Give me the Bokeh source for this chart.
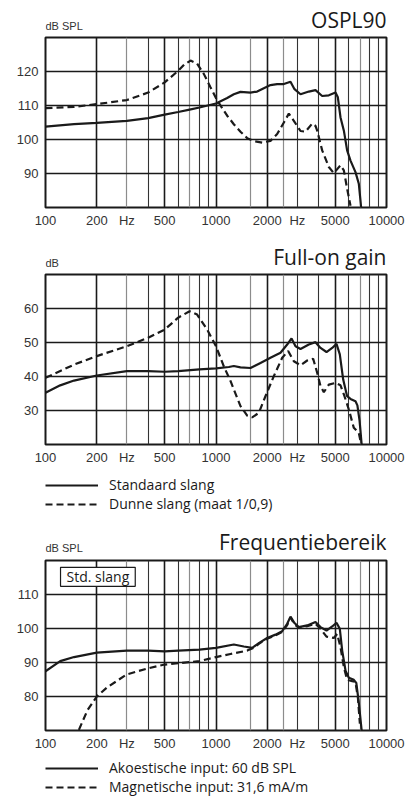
from bokeh.plotting import figure
from bokeh.layouts import column
from bokeh.models import Grid, FixedTicker, Label, Legend, LegendItem
from bokeh.core.properties import value
from bokeh.embed import file_html
from bokeh.resources import INLINE

# ---------------- data ----------------
X_TICKS = [100, 200, 300, 500, 1000, 2000, 3000, 5000, 10000]
X_LABELS = ["100", "200", "Hz", "500", "1000", "2000", "Hz", "5000", "10000"]
GRID_MAJOR = [200, 500, 1000, 2000, 5000]
GRID_DARK = [400, 600, 800, 900, 3000, 4000, 6000, 8000, 9000]
GRID_LIGHT = [300, 700, 1600, 2500, 7000]

TITLES = ["OSPL90", "Full-on gain", "Frequentiebereik"]
UNITS = ["dB SPL", "dB", "dB SPL"]
Y_TICKS = [[90, 100, 110, 120], [30, 40, 50, 60], [80, 90, 100, 110]]
Y_RANGES = [(80, 130), (20, 70), (70, 120)]
LEGEND_2 = ["Standaard slang", "Dunne slang (maat 1/0,9)"]
LEGEND_3 = ["Akoestische input: 60 dB SPL", "Magnetische input: 31,6 mA/m"]
BOX_3 = "Std. slang"

# OSPL90
ospl_std_f = [100, 147, 200, 300, 400, 500, 600, 700, 800, 1000, 1163, 1272, 1392, 1593, 1743, 1908,
              2087, 2284, 2500, 2735, 2887, 3131, 3503, 3833, 4195, 4590, 5022, 5184, 5374, 5623,
              5876, 6150, 6578, 6880, 7100]
ospl_std_v = [103.8, 104.5, 104.9, 105.5, 106.3, 107.3, 108.1, 108.8, 109.4, 110.6, 112.2, 113.3, 114.0,
              113.8, 114.1, 115.1, 116.0, 116.3, 116.3, 117.0, 114.8, 113.3, 114.1, 114.5, 112.8, 113.0,
              113.8, 112.4, 106.5, 102.6, 96.8, 93.8, 90.4, 87.0, 80.0]
ospl_thin_f = [100, 147, 200, 300, 400, 500, 600, 650, 709, 775, 848, 928, 1016, 1163, 1272, 1392, 1524,
               1667, 1866, 2087, 2284, 2500, 2674, 2861, 3131, 3350, 3666, 3833, 3922, 4195, 4590, 4909,
               5374, 5623, 5876, 6150]
ospl_thin_v = [109.2, 109.6, 110.4, 111.6, 113.8, 116.8, 120.2, 122.0, 123.2, 122.3, 119.3, 115.4, 111.5,
               107.0, 104.5, 102.3, 100.4, 99.5, 99.1, 99.6, 101.6, 105.0, 107.6, 105.5, 102.5, 102.3,
               104.7, 104.0, 102.6, 96.8, 91.9, 90.1, 92.4, 90.9, 85.5, 80.5]

# Full-on gain
gain_std_f = [100, 122, 147, 200, 300, 400, 500, 600, 800, 1000, 1189, 1272, 1392, 1593, 1824, 2087,
              2390, 2615, 2773, 2927, 3131, 3503, 3833, 4101, 4447, 4803, 5090, 5323, 5572, 5876, 6150,
              6578, 6750, 6950, 7150]
gain_std_v = [35.2, 37.4, 38.8, 40.3, 41.6, 41.6, 41.4, 41.6, 42.1, 42.4, 42.8, 43.1, 42.7, 42.5, 44.0,
              45.5, 47.0, 49.4, 51.2, 48.9, 48.1, 49.4, 50.1, 48.4, 47.2, 48.4, 49.6, 46.5, 39.1, 34.2,
              33.4, 32.7, 31.5, 27.0, 20.0]
gain_thin_f = [100, 147, 200, 300, 400, 500, 600, 700, 775, 887, 1000, 1111, 1216, 1272, 1392, 1524,
               1630, 1783, 1950, 2183, 2445, 2650, 2861, 3131, 3427, 3715, 3922, 4101, 4290, 4590, 5022,
               5374, 5670, 6012, 6432, 6880, 7105]
gain_thin_v = [39.6, 43.5, 46.0, 48.9, 51.4, 53.8, 57.3, 59.2, 58.2, 53.8, 48.9, 43.0, 38.7, 36.2, 31.3,
               28.5, 28.0, 29.3, 34.2, 40.1, 45.5, 47.5, 44.5, 43.3, 44.7, 45.2, 41.1, 37.2, 35.4, 37.6,
               38.1, 37.4, 34.2, 30.3, 24.9, 23.4, 20.0]

# Frequentiebereik
freq_ac_f = [100, 122, 147, 200, 300, 400, 500, 600, 800, 1000, 1272, 1456, 1630, 1783, 1995, 2234,
             2445, 2615, 2735, 2887, 3060, 3427, 3833, 4101, 4447, 4803, 5090, 5323, 5497, 5750, 6012,
             6432, 6650, 6850, 7150]
freq_ac_v = [87.4, 90.4, 91.6, 92.9, 93.5, 93.5, 93.3, 93.5, 93.8, 94.3, 95.3, 94.7, 94.3, 95.7, 97.2,
             98.2, 99.2, 101.4, 103.5, 101.6, 100.4, 100.9, 101.9, 100.4, 99.4, 100.6, 101.7, 99.9,
             93.5, 87.6, 85.5, 84.9, 84.0, 79.0, 70.0]
freq_mag_f = [157, 176, 200, 230, 300, 400, 500, 600, 800, 1000, 1216, 1524, 1667, 1783, 1995, 2234,
              2445, 2615, 2735, 2887, 3060, 3427, 3833, 4101, 4447, 4909, 5140, 5374, 5623, 5876, 6290,
              6578, 6800, 6980]
freq_mag_v = [70.2, 75.9, 80.0, 82.7, 86.5, 88.3, 89.4, 89.8, 90.4, 91.6, 92.5, 93.5, 94.3, 95.5, 97.0,
              98.0, 99.0, 101.0, 103.2, 101.2, 100.2, 100.7, 101.4, 99.9, 97.6, 97.2, 98.4, 94.5, 88.6,
              84.9, 84.5, 84.3, 79.5, 72.0]

INK = "#1a1a1a"
TICK_FONT = "Liberation Sans"
TITLE_FONT = "Open Sans"
DASH = "7 4"
W = 410
BL, BR = 45, 24


def bare_figure(h, bl=BL, bt=0, xr=(0, 1), yr=None):
    p = figure(width=W, height=h, x_range=xr, y_range=yr if yr else (0, h),
               x_axis_location=None, y_axis_location=None,
               output_backend="svg", toolbar_location=None,
               min_border_left=bl, min_border_right=BR, min_border_top=bt, min_border_bottom=0)
    p.outline_line_color = None
    p.background_fill_color = "white"
    p.border_fill_color = "white"
    p.grid.visible = False
    return p


def make_header(h, title, unit, title_base, unit_base):
    p = bare_figure(h)
    p.text(x=[1], y=[title_base], text=[title], text_align="right", text_baseline="alphabetic",
           text_font=value(TITLE_FONT), text_font_size=value("21px"), text_color=INK)
    p.text(x=[0], y=[unit_base], text=[unit], text_align="left", text_baseline="alphabetic",
           text_font=value(TICK_FONT), text_font_size=value("11px"), text_color="#333333")
    return p


def make_legend(h, bt, labels, series):
    # legend panel under a chart; its sample lines reuse the chart's series (outside this panel's view)
    p = bare_figure(h, bl=43, bt=bt)
    (f1, v1), (f2, v2) = series
    r1 = p.line(f1, v1, line_color=INK, line_width=2.2)
    r2 = p.line(f2, v2, line_color=INK, line_width=2.2, line_dash=DASH)
    items = [LegendItem(label=labels[0], renderers=[r1]), LegendItem(label=labels[1], renderers=[r2])]
    leg = Legend(items=items, location="top_left", orientation="vertical",
                 glyph_width=53, glyph_height=18, label_height=18, label_standoff=11,
                 spacing=0, padding=0, margin=0, border_line_color=None,
                 background_fill_alpha=0, label_text_font=TITLE_FONT,
                 label_text_font_size="14px", label_text_color=INK)
    p.add_layout(leg)
    return p


def make_chart(h, yr, yticks, series, box=None):
    p = figure(width=W, height=h, x_axis_type="log", x_range=(100, 10000), y_range=yr,
               output_backend="svg", toolbar_location=None,
               min_border_left=BL, min_border_right=BR, min_border_top=1, min_border_bottom=25)
    p.background_fill_color = "white"
    p.border_fill_color = "white"
    p.outline_line_color = INK
    p.outline_line_width = 2
    p.xgrid.visible = False
    p.ygrid.visible = False
    for ticks, color, width in [(GRID_LIGHT, "#8c8c8c", 1.2), (GRID_DARK, "#333333", 1.1),
                                (GRID_MAJOR, INK, 1.6)]:
        p.add_layout(Grid(dimension=0, ticker=FixedTicker(ticks=ticks),
                          grid_line_color=color, grid_line_width=width))
    p.add_layout(Grid(dimension=1, ticker=FixedTicker(ticks=yticks),
                      grid_line_color=INK, grid_line_width=1.4))

    p.xaxis.ticker = FixedTicker(ticks=X_TICKS)
    p.xaxis.major_label_overrides = dict(zip(X_TICKS, X_LABELS))
    p.yaxis.ticker = FixedTicker(ticks=yticks)
    for ax in (p.xaxis, p.yaxis):
        ax.axis_line_color = None
        ax.major_tick_line_color = None
        ax.minor_tick_line_color = None
        ax.major_tick_out = 0
        ax.major_tick_in = 0
        ax.major_label_text_font = TICK_FONT
        ax.major_label_text_font_size = "13px"
        ax.major_label_text_color = "#333333"
    p.xaxis.major_label_standoff = 5
    p.yaxis.major_label_standoff = 7

    for (fx, vy, dash) in series:
        p.line(fx, vy, line_color=INK, line_width=2.2, line_dash=dash)

    if box:
        p.add_layout(Label(x=122.5, y=box[1], text=box[0], text_align="left", text_baseline="top",
                           text_font=TITLE_FONT, text_font_size="14px", text_color=INK,
                           border_line_color=INK, border_line_width=1.2,
                           background_fill_color="white",
                           padding=dict(left=6, right=6, top=0, bottom=0)))
    return p


h1 = make_header(36, TITLES[0], UNITS[0], 17, 11)
p1 = make_chart(196, Y_RANGES[0], Y_TICKS[0],
                [(ospl_std_f, ospl_std_v, "solid"), (ospl_thin_f, ospl_thin_v, DASH)])
h2 = make_header(41, TITLES[1], UNITS[1], 17, 11)
p2 = make_chart(196, Y_RANGES[1], Y_TICKS[1],
                [(gain_std_f, gain_std_v, "solid"), (gain_thin_f, gain_thin_v, DASH)])
l2 = make_legend(53, 6, LEGEND_2, [(gain_std_f, gain_std_v), (gain_thin_f, gain_thin_v)])
h3 = make_header(37, TITLES[2], UNITS[2], 18, 12)
p3 = make_chart(196, Y_RANGES[2], Y_TICKS[2],
                [(freq_ac_f, freq_ac_v, "solid"), (freq_mag_f, freq_mag_v, DASH)],
                box=(BOX_3, 118))
l3 = make_legend(41, 3, LEGEND_3, [(freq_ac_f, freq_ac_v), (freq_mag_f, freq_mag_v)])

layout = column(h1, p1, h2, p2, l2, h3, p3, l3, spacing=0)
open("out.html", "w").write(file_html(layout, INLINE))
